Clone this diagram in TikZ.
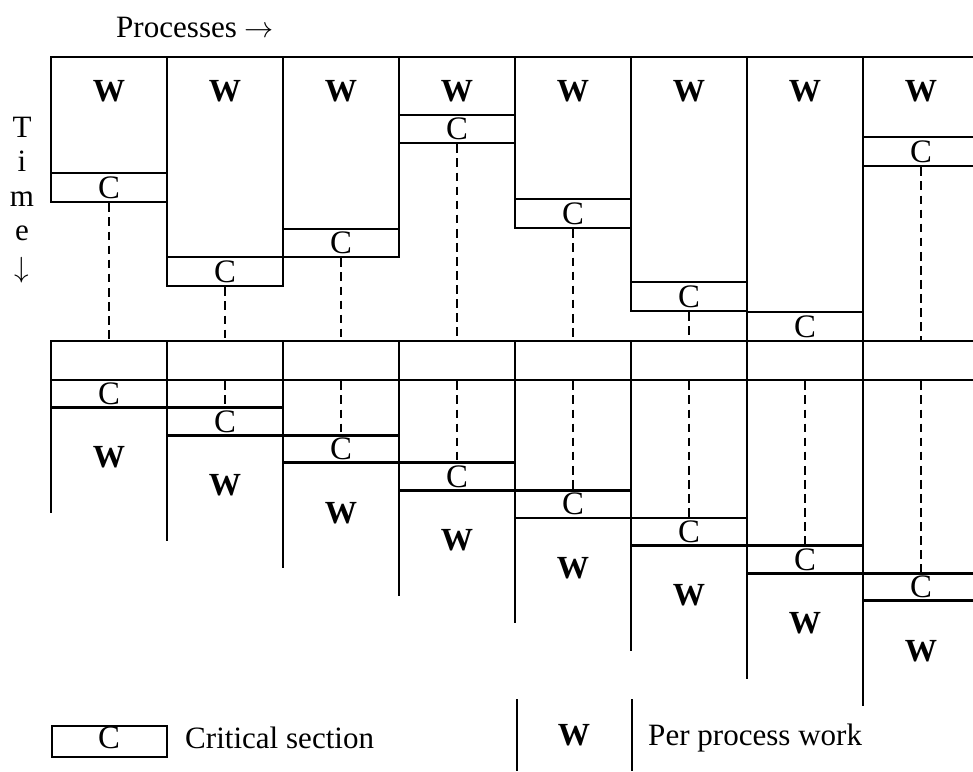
\documentclass[tikz,border=0pt]{standalone}
\usepackage{fontspec}
\setmainfont{Liberation Serif}
\usetikzlibrary{fit}
\tikzset{
  box/.style={draw, inner sep=0pt, line width=2.4pt},
  rule/.style={line width=2.4pt},
  tie/.style={draw, line width=1.9pt, dash pattern=on 7.5pt off 4.5pt},
  wlab/.style={font=\fontsize{27.5}{32}\selectfont\bfseries, inner sep=0pt},
  clab/.style={font=\fontsize{28}{32}\selectfont, inner sep=0pt},
  txt/.style={font=\fontsize{26.5}{31}\selectfont, inner sep=0pt},
}
\begin{document}
\begin{tikzpicture}[x=0.03cm, y=-0.03cm]
\useasboundingbox (0,0) rectangle (973,771);
\clip (0,0) rectangle (973,771);

% axis captions
\node[txt, anchor=base west] (proc) at (116,37) {Processes $\rightarrow$};
\node[txt, anchor=base] (t1) at (22,137) {T};
\node[txt, anchor=base] (t2) at (22,171) {i};
\node[txt, anchor=base] (t3) at (22,206) {m};
\node[txt, anchor=base] (t4) at (22,240) {e};
\node[txt, anchor=north] (t5) at (22,257) {$\downarrow$};

% upper phase: work box, critical section, barrier cell
\foreach \k/\xa/\xb/\ct/\cb in {1/51/167/173/202, 2/167/283/257/286,
    3/283/399/229/257, 4/399/515/115/143, 5/515/631/199/228,
    6/631/747/282/311, 7/747/863/312/341, 8/863/979/137/166} {
  \node[box, fit={(\xa,57) (\xb,\ct)}] (w\k) {};
  \node[wlab] (wt\k) at ({(\xa+\xb)/2},91) {W};
  \node[box, fit={(\xa,\ct) (\xb,\cb)}] (c\k) {};
  \node[clab] (ct\k) at (c\k.center) {C};
  \node[box, fit={(\xa,341) (\xb,380)}] (b\k) {};
}
\foreach \k in {1,2,3,4,5,6,8}
  \draw[tie] (c\k.south) -- (b\k.north);

% lower phase: staggered critical sections followed by work
\foreach \k/\xa/\xb in {1/51/167, 2/167/283, 3/283/399, 4/399/515,
    5/515/631, 6/631/747, 7/747/863, 8/863/979} {
  \pgfmathsetmacro\top{380+27.6*(\k-1)}
  \pgfmathsetmacro\bot{\top+27.6}
  \pgfmathsetmacro\fin{\top+133}
  \node[box, fit={(\xa,\top) (\xb,\bot)}] (l\k) {};
  \node[clab] (lt\k) at (l\k.center) {C};
  \coordinate (e\k) at (\xa,\fin);
  \draw[rule] (\xa,380) -- (e\k);
  \node[wlab] (lw\k) at ({(\xa+\xb)/2},\bot+50) {W};
}
\foreach \k in {2,...,8}
  \draw[tie] (b\k.south) -- (l\k.north);

% legend
\node[box, fit={(52,726) (167,757)}] (lc) {};
\node[clab] (lct) at (109,738) {C};
\node[txt, anchor=base west] (lcs) at (185,748) {Critical section};
\coordinate (la) at (517,699);
\coordinate (lb) at (632,699);
\draw[rule] (la) -- (517,771);
\draw[rule] (lb) -- (632,771);
\node[wlab] (lwt) at (574,735) {W};
\node[txt, anchor=base west] (lpw) at (648,745) {Per process work};
\end{tikzpicture}
\end{document}
